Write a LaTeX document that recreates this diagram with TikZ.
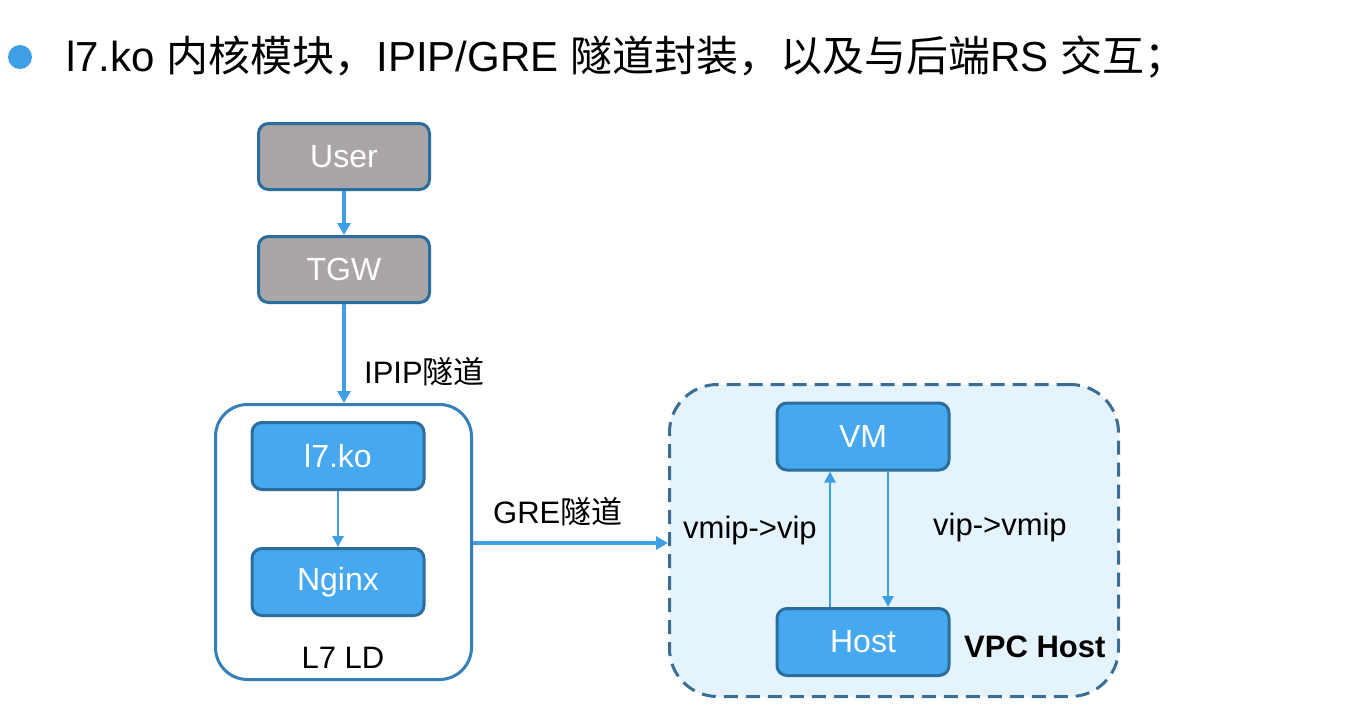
\documentclass[tikz,border=0pt]{standalone}
\usepackage{fontspec}
\setmainfont{Liberation Sans}
\newfontfamily\cjk{Noto Sans CJK SC}
\usetikzlibrary{arrows.meta}
\definecolor{boxblue}{HTML}{46A8EE}
\definecolor{boxedge}{HTML}{2B6E9E}
\definecolor{arrblue}{HTML}{3E9FE4}
\definecolor{boxgray}{HTML}{AAA6A7}
\definecolor{lightbg}{HTML}{E4F3FC}
\definecolor{ldedge}{HTML}{3580B8}
\definecolor{dashedge}{HTML}{3A6E94}
\begin{document}
\begin{tikzpicture}[x=1pt,y=-1pt,
  graybox/.style={draw=boxedge,line width=3pt,fill=boxgray,rounded corners=10pt,minimum width=171pt,minimum height=66pt,inner sep=0pt,text=white,font=\fontsize{32}{34}\selectfont},
  bluebox/.style={draw=boxedge,line width=3pt,fill=boxblue,rounded corners=10pt,minimum width=172pt,minimum height=67pt,inner sep=0pt,text=white,font=\fontsize{32}{34}\selectfont},
  flow/.style={draw=arrblue,line width=3.2pt,-{Triangle[length=12pt,width=13pt]}},
  thinflow/.style={draw=arrblue,line width=2.6pt,-{Triangle[length=11pt,width=11pt]}},
  lbl/.style={font=\fontsize{31}{33}\selectfont,inner sep=0pt}
]
\useasboundingbox (0,0) rectangle (1350,724);
\fill[white] (0,0) rectangle (1350,724);
% title
\node[circle,fill=arrblue,minimum size=24pt,inner sep=0pt] (bullet) at (20,57) {};
\node[anchor=west,inner sep=0pt,font=\fontsize{42}{46}\selectfont] (title) at (66,57) {l7.ko {\cjk 内核模块，}IPIP/GRE {\cjk 隧道封装，以及与后端}RS {\cjk 交互；}};
% containers
\node[draw=ldedge,line width=3pt,rounded corners=32pt,fill=white,minimum width=256pt,minimum height=275pt,inner sep=0pt] (ld) at (343.5,542) {};
\node[draw=dashedge,line width=3pt,dash pattern=on 14pt off 8pt,rounded corners=48pt,fill=lightbg,minimum width=449pt,minimum height=312pt,inner sep=0pt] (vpc) at (894,540.5) {};
% nodes
\node[graybox] (user) at (344,156.5) {User};
\node[graybox] (tgw) at (344,269.5) {TGW};
\node[bluebox] (l7) at (338,456) {l7.ko};
\node[bluebox] (nginx) at (338,582) {Nginx};
\node[bluebox] (vm) at (863,436.5) {VM};
\node[bluebox] (host) at (863,642) {Host};
% labels
\node[lbl] (ldlbl) at (343,658) {L7 LD};
\node[lbl,font=\bfseries\fontsize{31}{33}\selectfont,anchor=west] (vpclbl) at (964,647) {VPC Host};
\node[lbl,anchor=west] (ipip) at (364,372) {IPIP{\cjk 隧道}};
\node[lbl,anchor=west] (gre) at (493,512) {GRE{\cjk 隧道}};
\node[lbl,anchor=west] (v1) at (683,530) {vmip->vip};
\node[lbl,anchor=west] (v2) at (933,527) {vip->vmip};
% connectors
\draw[flow] (user.south) -- (tgw.north);
\draw[flow] (tgw.south) -- (ld.north -| tgw.south);
\draw[thinflow] (l7.south) -- (nginx.north);
\draw[flow] (ld.east |- 0,543) -- (vpc.west |- 0,543);
\draw[thinflow] (host.north -| 830,0) -- (vm.south -| 830,0);
\draw[thinflow] (vm.south -| 888,0) -- (host.north -| 888,0);
\end{tikzpicture}
\end{document}
